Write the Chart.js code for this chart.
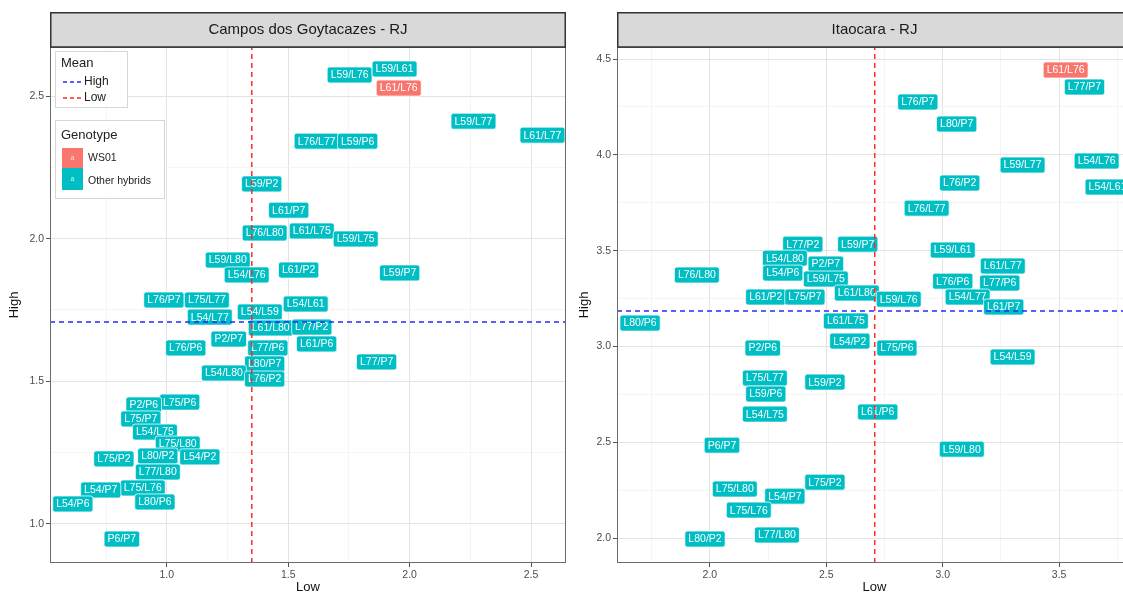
<!DOCTYPE html>
<html>
<head>
<meta charset="utf-8">
<script src="https://cdn.jsdelivr.net/npm/chart.js@4.4.1/dist/chart.umd.min.js"></script>
<style>
  html, body { margin: 0; padding: 0; background: #fff; overflow: hidden; }
  #wrap { position: relative; width: 1123px; height: 593px; overflow: hidden; }
  canvas { position: absolute; top: 0; }
  #left { left: 0; }
  #right { left: 570px; }
</style>
</head>
<body>
<div id="wrap">
  <canvas id="left" width="570" height="593"></canvas>
  <canvas id="right" width="565" height="593"></canvas>
</div>
<script>
/* global Chart */

const ws01 = 'L61/L76';

// Campos dos Goytacazes - RJ
const camposHybrids = [
  'L59/L76', 'L59/L61', 'L61/L76', 'L59/L77', 'L61/L77', 'L76/L77', 'L59/P6', 'L59/P2',
  'L61/P7', 'L76/L80', 'L61/L75', 'L59/L75', 'L59/L80', 'L54/L76', 'L61/P2', 'L59/P7',
  'L76/P7', 'L75/L77', 'L54/L61', 'L54/L77', 'L54/L59', 'L61/L80', 'L77/P2', 'P2/P7',
  'L76/P6', 'L77/P6', 'L61/P6', 'L77/P7', 'L80/P7', 'L54/L80', 'L76/P2', 'L75/P6',
  'P2/P6', 'L75/P7', 'L54/L75', 'L75/L80', 'L80/P2', 'L54/P2', 'L75/P2', 'L77/L80',
  'L75/L76', 'L54/P7', 'L80/P6', 'L54/P6', 'P6/P7',
];
const camposLow = [
  1.753, 1.938, 1.955, 2.263, 2.547, 1.617, 1.786, 1.391,
  1.502, 1.403, 1.597, 1.778, 1.251, 1.329, 1.543, 1.959,
  0.988, 1.165, 1.572, 1.177, 1.383, 1.428, 1.597, 1.255,
  1.078, 1.416, 1.617, 1.864, 1.403, 1.235, 1.403, 1.053,
  0.905, 0.893, 0.951, 1.045, 0.963, 1.136, 0.782, 0.963,
  0.901, 0.728, 0.951, 0.613, 0.815,
];
const camposHigh = [
  2.574, 2.595, 2.528, 2.412, 2.363, 2.342, 2.342, 2.192,
  2.100, 2.020, 2.027, 1.999, 1.925, 1.873, 1.890, 1.880,
  1.785, 1.785, 1.771, 1.725, 1.743, 1.687, 1.690, 1.648,
  1.617, 1.617, 1.631, 1.568, 1.561, 1.529, 1.508, 1.427,
  1.417, 1.368, 1.322, 1.280, 1.238, 1.235, 1.228, 1.182,
  1.126, 1.119, 1.077, 1.070, 0.947,
];
const camposMeanLow = 1.35;
const camposMeanHigh = 1.708;

// Itaocara - RJ
const itaHybrids = [
  'L61/L76', 'L77/P7', 'L76/P7', 'L80/P7', 'L59/L77', 'L54/L76', 'L76/P2', 'L54/L61',
  'L76/L77', 'L77/P2', 'L59/P7', 'L59/L61', 'L54/L80', 'P2/P7', 'L76/L80', 'L54/P6',
  'L59/L75', 'L61/L77', 'L76/P6', 'L77/P6', 'L61/P2', 'L75/P7', 'L61/L80', 'L59/L76',
  'L54/L77', 'L61/P7', 'L80/P6', 'L61/L75', 'L54/P2', 'L75/P6', 'P2/P6', 'L54/L59',
  'L75/L77', 'L59/P2', 'L59/P6', 'L54/L75', 'L61/P6', 'P6/P7', 'L59/L80', 'L75/P2',
  'L75/L80', 'L54/P7', 'L75/L76', 'L77/L80', 'L80/P2',
];
const itaLow = [
  3.528, 3.609, 2.893, 3.060, 3.343, 3.661, 3.073, 3.708,
  2.931, 2.399, 2.635, 3.043, 2.322, 2.498, 1.944, 2.313,
  2.498, 3.258, 3.043, 3.245, 2.240, 2.408, 2.631, 2.811,
  3.107, 3.262, 1.700, 2.584, 2.601, 2.803, 2.227, 3.300,
  2.236, 2.494, 2.240, 2.236, 2.721, 2.052, 3.082, 2.494,
  2.107, 2.322, 2.167, 2.288, 1.979,
];
const itaHigh = [
  4.443, 4.354, 4.276, 4.161, 3.947, 3.968, 3.853, 3.832,
  3.722, 3.534, 3.534, 3.503, 3.461, 3.430, 3.373, 3.383,
  3.352, 3.420, 3.341, 3.331, 3.258, 3.258, 3.279, 3.247,
  3.258, 3.206, 3.122, 3.133, 3.028, 2.992, 2.992, 2.945,
  2.835, 2.814, 2.752, 2.647, 2.658, 2.485, 2.464, 2.292,
  2.256, 2.219, 2.146, 2.016, 1.995,
];
const itaMeanLow = 2.708;
const itaMeanHigh = 3.185;

const TEAL = '#00BFC4';
const SALMON = '#F8766D';
const FONT = '"Liberation Sans", Arial, Helvetica, sans-serif';

const isMajor = (v) => Math.abs(v * 2 - Math.round(v * 2)) < 1e-6;

function points(names, low, high, keepWs01) {
  const out = [];
  names.forEach((name, i) => {
    if ((name === ws01) === keepWs01) out.push({ x: low[i], y: high[i], name });
  });
  return out;
}

function roundRect(ctx, x, y, w, h, r) {
  ctx.beginPath();
  ctx.moveTo(x + r, y);
  ctx.lineTo(x + w - r, y);
  ctx.quadraticCurveTo(x + w, y, x + w, y + r);
  ctx.lineTo(x + w, y + h - r);
  ctx.quadraticCurveTo(x + w, y + h, x + w - r, y + h);
  ctx.lineTo(x + r, y + h);
  ctx.quadraticCurveTo(x, y + h, x, y + h - r);
  ctx.lineTo(x, y + r);
  ctx.quadraticCurveTo(x, y, x + r, y);
  ctx.closePath();
}

function drawTag(ctx, x, y, text, fill) {
  ctx.font = '10.5px ' + FONT;
  const w = ctx.measureText(text).width + 7;
  const h = 16;
  roundRect(ctx, x - w / 2, y - h / 2, w, h, 2.5);
  ctx.fillStyle = fill;
  ctx.fill();
  ctx.strokeStyle = 'rgba(255,255,255,0.75)';
  ctx.lineWidth = 1;
  ctx.stroke();
  ctx.fillStyle = '#fff';
  ctx.textAlign = 'center';
  ctx.textBaseline = 'middle';
  ctx.fillText(text, x, y + 0.5);
}

function drawLegends(ctx) {
  ctx.save();
  ctx.strokeStyle = '#d6d6d6';
  ctx.lineWidth = 1;
  ctx.fillStyle = '#fff';
  ctx.fillRect(55.5, 51.5, 72, 56);
  ctx.strokeRect(55.5, 51.5, 72, 56);
  ctx.fillRect(55.5, 120.5, 109, 78);
  ctx.strokeRect(55.5, 120.5, 109, 78);

  ctx.fillStyle = '#222';
  ctx.textAlign = 'left';
  ctx.textBaseline = 'middle';
  ctx.font = '13px ' + FONT;
  ctx.fillText('Mean', 61, 63);
  ctx.fillText('Genotype', 61, 135);

  ctx.font = '12px ' + FONT;
  ctx.fillText('High', 84, 82);
  ctx.fillText('Low', 84, 98);
  ctx.setLineDash([4, 3]);
  ctx.lineWidth = 1.5;
  ctx.strokeStyle = '#2a2aff';
  ctx.beginPath(); ctx.moveTo(63, 82); ctx.lineTo(81, 82); ctx.stroke();
  ctx.strokeStyle = '#ff2a2a';
  ctx.beginPath(); ctx.moveTo(63, 98); ctx.lineTo(81, 98); ctx.stroke();
  ctx.setLineDash([]);

  ctx.fillStyle = SALMON;
  ctx.fillRect(62, 148, 21, 20);
  ctx.fillStyle = TEAL;
  ctx.fillRect(62, 168, 21, 22);
  ctx.fillStyle = 'rgba(255,255,255,0.8)';
  ctx.textAlign = 'center';
  ctx.font = '7px ' + FONT;
  ctx.fillText('a', 72.5, 158);
  ctx.fillText('a', 72.5, 179);
  ctx.fillStyle = '#222';
  ctx.textAlign = 'left';
  ctx.font = '10.5px ' + FONT;
  ctx.fillText('WS01', 88, 158);
  ctx.fillText('Other hybrids', 88, 181);
  ctx.restore();
}

function panelPlugin(title, withLegend) {
  return {
    id: 'panel',
    beforeDatasetsDraw(chart) {
      const ctx = chart.ctx;
      const { left, top, right, bottom } = chart.chartArea;
      ctx.save();
      ctx.beginPath();
      ctx.rect(left, top, right - left, bottom - top);
      ctx.clip();
      chart.data.datasets.forEach((ds, i) => {
        if (!ds.tagFill) return;
        const meta = chart.getDatasetMeta(i);
        meta.data.forEach((el, j) => {
          drawTag(ctx, el.x, el.y, ds.data[j].name, ds.tagFill);
        });
      });
      ctx.restore();
    },
    afterDraw(chart) {
      const ctx = chart.ctx;
      const { left, top, right, bottom } = chart.chartArea;
      ctx.save();
      if (withLegend) drawLegends(ctx);
      ctx.strokeStyle = '#6b6b6b';
      ctx.lineWidth = 1;
      ctx.strokeRect(left + 0.5, top + 0.5, right - left - 1, bottom - top - 1);
      ctx.fillStyle = '#d9d9d9';
      ctx.fillRect(left, 12, right - left, top - 12);
      ctx.strokeStyle = '#333';
      ctx.lineWidth = 1.5;
      ctx.strokeRect(left + 0.75, 12.75, right - left - 1.5, top - 12.75);
      ctx.fillStyle = '#1a1a1a';
      ctx.font = '15px ' + FONT;
      ctx.textAlign = 'center';
      ctx.textBaseline = 'middle';
      ctx.fillText(title, (left + right) / 2, 29.5);
      ctx.restore();
    },
  };
}

function axis(min, max, title, size, horizontal) {
  return {
    type: 'linear',
    min,
    max,
    border: { display: false },
    grid: {
      color: (c) => (isMajor(c.tick.value) ? '#e3e3e3' : '#f1f1f1'),
      lineWidth: (c) => (isMajor(c.tick.value) ? 1 : 0.7),
      tickColor: (c) => (isMajor(c.tick.value) ? '#555' : 'rgba(0,0,0,0)'),
      tickLength: 4,
    },
    ticks: {
      stepSize: 0.25,
      includeBounds: false,
      autoSkip: false,
      maxRotation: 0,
      padding: 2,
      color: '#4d4d4d',
      font: { family: FONT, size: 10.5 },
      callback: (v) => (isMajor(v) ? v.toFixed(1) : ''),
    },
    title: {
      display: true,
      text: title,
      color: '#111',
      font: { family: FONT, size: 13 },
      padding: horizontal ? { top: 0, bottom: -2 } : { top: 7, bottom: 0 },
    },
    afterFit(scale) {
      if (horizontal) scale.height = size; else scale.width = size;
    },
  };
}

function makePanel(id, cfg) {
  const canvas = document.getElementById(id);
  const datasets = [
    {
      label: 'WS01',
      data: points(cfg.names, cfg.low, cfg.high, true),
      tagFill: SALMON,
      pointRadius: 0,
    },
    {
      label: 'Other hybrids',
      data: points(cfg.names, cfg.low, cfg.high, false),
      tagFill: TEAL,
      pointRadius: 0,
    },
    {
      label: 'High',
      data: [{ x: cfg.xMin, y: cfg.meanHigh }, { x: cfg.xMax, y: cfg.meanHigh }],
      showLine: true,
      pointRadius: 0,
      borderColor: '#2a2aff',
      borderWidth: 1.5,
      borderDash: [5, 4],
    },
    {
      label: 'Low',
      data: [{ x: cfg.meanLow, y: cfg.yMin }, { x: cfg.meanLow, y: cfg.yMax }],
      showLine: true,
      pointRadius: 0,
      borderColor: '#ff2a2a',
      borderWidth: 1.5,
      borderDash: [5, 4],
    },
  ];
  return new Chart(canvas, {
    type: 'scatter',
    data: { datasets },
    options: {
      responsive: false,
      animation: false,
      devicePixelRatio: 1,
      layout: { padding: { top: 47, right: cfg.padRight, left: 0, bottom: 0 } },
      plugins: { legend: { display: false }, tooltip: { enabled: false } },
      scales: {
        x: axis(cfg.xMin, cfg.xMax, 'Low', 30, true),
        y: axis(cfg.yMin, cfg.yMax, 'High', cfg.yWidth, false),
      },
    },
    plugins: [panelPlugin(cfg.title, cfg.legend)],
  });
}

makePanel('left', {
  title: 'Campos dos Goytacazes - RJ',
  names: camposHybrids,
  low: camposLow,
  high: camposHigh,
  meanLow: camposMeanLow,
  meanHigh: camposMeanHigh,
  xMin: 0.519,
  xMax: 2.644,
  yMin: 0.863,
  yMax: 2.672,
  yWidth: 50,
  padRight: 4,
  legend: true,
});

makePanel('right', {
  title: 'Itaocara - RJ',
  names: itaHybrids,
  low: itaLow,
  high: itaHigh,
  meanLow: itaMeanLow,
  meanHigh: itaMeanHigh,
  xMin: 1.601,
  xMax: 3.813,
  yMin: 1.870,
  yMax: 4.563,
  yWidth: 47,
  padRight: 3,
  legend: false,
});
</script>
</body>
</html>
